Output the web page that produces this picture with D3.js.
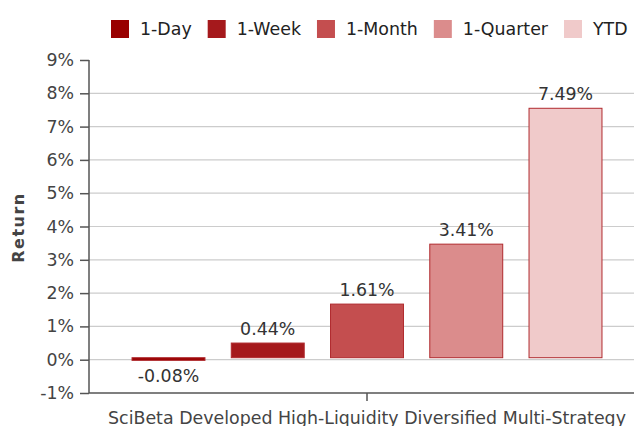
<!DOCTYPE html>
<html>
<head>
<meta charset="utf-8">
<script src="https://cdn.jsdelivr.net/npm/d3@7"></script>
<style>
  body { margin: 0; background: #fff; }
  text { font-family: "DejaVu Sans", sans-serif; }
</style>
</head>
<body>
<script>
var margin = {top: 60, right: -11, bottom: 33, left: 89}
  , width = 634 - margin.left - margin.right
  , height = 426 - margin.top - margin.bottom;

var fontSize = "17.4px";
var barShift = -2; // bars sit a touch above the zero grid line

var categories = ["SciBeta Developed High-Liquidity Diversified Multi-Strategy"];
var seriesNames = ["1-Day", "1-Week", "1-Month", "1-Quarter", "YTD"];
var seriesValues = [-0.08, 0.44, 1.61, 3.41, 7.49];
var seriesColors = ["#990000", "#a5191c", "#c44e4f", "#db8c8c", "#f0caca"];
var yTicks = [-1, 0, 1, 2, 3, 4, 5, 6, 7, 8, 9];

var svg = d3.select("body").append("svg")
    .attr("width", 634)
    .attr("height", 426)
    .append("g")
    .attr("transform", "translate(" + margin.left + "," + margin.top + ")");

var x0 = d3.scaleBand()
    .domain(categories)
    .range([0, width])
    .paddingInner(0)
    .paddingOuter(0.032);

var x1 = d3.scaleBand()
    .domain(seriesNames)
    .range([0, x0.bandwidth()])
    .padding(0.265);

var y = d3.scaleLinear()
    .domain([-1, 9])
    .range([height, 0]);

// grid lines
svg.append("g")
    .selectAll("line")
    .data(yTicks.filter(function(d) { return d >= 0 && d < 9; }))
    .enter().append("line")
    .attr("x1", 0)
    .attr("x2", width)
    .attr("y1", function(d) { return y(d); })
    .attr("y2", function(d) { return y(d); })
    .style("stroke", "#cccccc")
    .style("stroke-width", 1.2);

// y axis
svg.append("g")
    .attr("class", "y axis")
    .call(d3.axisLeft(y).tickValues(yTicks).tickSize(9).tickPadding(6)
        .tickFormat(function(d) { return d + "%"; }))
    .call(function(g) {
        g.selectAll("line, path").style("stroke", "#555").style("stroke-width", 1.5);
        g.select(".domain").attr("d", "M0," + y(9) + "V" + y(-1));
        g.selectAll("text").style("font-size", fontSize).style("fill", "#444")
            .style("font-family", "DejaVu Sans");
    });

// x axis
svg.append("g")
    .attr("class", "x axis")
    .attr("transform", "translate(0," + height + ")")
    .call(d3.axisBottom(x0).tickSize(8).tickPadding(11))
    .call(function(g) {
        g.selectAll("line, path").style("stroke", "#555").style("stroke-width", 1.5);
        g.select(".domain").attr("d", "M0,0H" + width);
        g.selectAll("text").style("font-size", fontSize).style("fill", "#444")
            .style("font-family", "DejaVu Sans");
    });

var data = seriesNames.map(function(s, i) {
    return {name: s, value: seriesValues[i], color: seriesColors[i], cat: categories[0]};
});

var bars = svg.append("g").attr("transform", "translate(0," + barShift + ")");

bars.selectAll("rect")
    .data(data)
    .enter().append("rect")
    .attr("x", function(d) { return x0(d.cat) + x1(d.name); })
    .attr("y", function(d) { return y(Math.max(0, d.value)); })
    .attr("width", x1.bandwidth())
    .attr("height", function(d) { return Math.abs(y(d.value) - y(0)); })
    .style("fill", function(d) { return d.color; })
    .style("stroke", "#b02a2e")
    .style("stroke-width", 1);

bars.selectAll("text")
    .data(data)
    .enter().append("text")
    .attr("text-anchor", "middle")
    .attr("x", function(d) { return x0(d.cat) + x1(d.name) + x1.bandwidth() / 2; })
    .attr("y", function(d) { return d.value >= 0 ? y(d.value) - 8 : y(d.value) + 22; })
    .style("font-size", fontSize)
    .style("fill", "#333")
    .text(function(d) { return d.value.toFixed(2) + "%"; });

// y axis title
svg.append("text")
    .attr("text-anchor", "middle")
    .attr("transform", "translate(" + (-margin.left + 24) + "," + (y(4) + 1) + ")rotate(-90)")
    .style("font-size", "16px")
    .style("font-weight", "bold")
    .style("letter-spacing", "1.5px")
    .style("fill", "#444")
    .text("Return");

// legend
var legend = d3.select("svg").append("g").attr("class", "legend");
var lx = 111;
seriesNames.forEach(function(s, i) {
    var item = legend.append("g").attr("transform", "translate(" + lx + ",20)");
    item.append("rect")
        .attr("width", 18)
        .attr("height", 18)
        .style("fill", seriesColors[i]);
    var t = item.append("text")
        .attr("x", 29)
        .attr("y", 15)
        .style("font-size", fontSize)
        .style("fill", "#222")
        .text(s);
    lx += 29 + t.node().getComputedTextLength() + 16;
});
</script>
</body>
</html>
